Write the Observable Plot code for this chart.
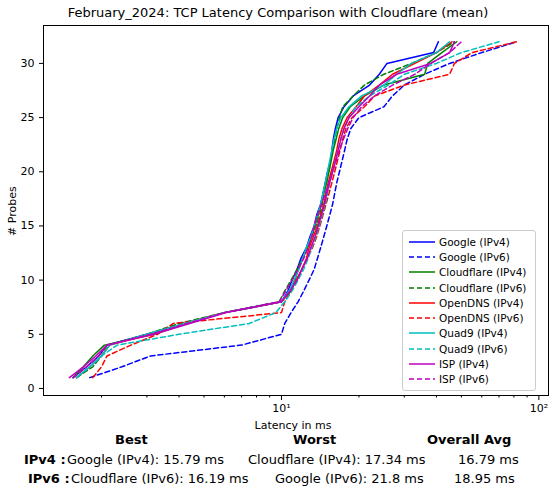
<!DOCTYPE html>
<html><head><meta charset="utf-8">
<script src="https://cdn.jsdelivr.net/npm/d3@7"></script>
<script src="https://cdn.jsdelivr.net/npm/@observablehq/plot@0.6"></script>
<style>
body{margin:0;font-family:"DejaVu Sans",sans-serif;background:#fff}
#wrap{position:relative;width:556px;height:496px}
.t{position:absolute;white-space:nowrap;font-size:13px}
.b{font-weight:bold}
#legend{position:absolute;left:402px;top:230px;width:132px;border:1px solid #ccc;border-radius:3px;background:rgba(255,255,255,.85);font-size:10.5px;padding:3px 0}
#legend div{height:15.3px;display:flex;align-items:center}
</style></head><body>
<div id="wrap">
  <div id="chart"></div>
  <div class="t" style="left:0;width:556px;text-align:center;top:5px">February_2024: TCP Latency Comparison with Cloudflare (mean)</div>
  <div id="legend"></div>
  <div class="t" style="left:0;width:556px;text-align:center;top:419px;font-size:11px;padding-left:30px;box-sizing:border-box">Latency in ms</div>
  <div class="t" style="left:6px;top:236px;transform:rotate(-90deg);transform-origin:left top;font-size:11px">&#35; Probes</div>
  <div class="t b" style="left:115px;top:432px">Best</div>
  <div class="t b" style="left:293px;top:432px">Worst</div>
  <div class="t b" style="left:427px;top:432px">Overall Avg</div>
  <div class="t b" style="left:24px;top:452px">IPv4 :</div>
  <div class="t" style="left:67px;top:452px">Google (IPv4): 15.79 ms</div>
  <div class="t" style="left:248px;top:452px">Cloudflare (IPv4): 17.34 ms</div>
  <div class="t" style="left:458px;top:452px">16.79 ms</div>
  <div class="t b" style="left:28px;top:471px">IPv6 :</div>
  <div class="t" style="left:71px;top:471px">Cloudflare (IPv6): 16.19 ms</div>
  <div class="t" style="left:275px;top:471px">Google (IPv6): 21.8 ms</div>
  <div class="t" style="left:454px;top:471px">18.95 ms</div>
</div>
<script>
const probes = d3.range(1, 33)
const names = ["Google (IPv4)","Google (IPv6)","Cloudflare (IPv4)","Cloudflare (IPv6)","OpenDNS (IPv4)","OpenDNS (IPv6)","Quad9 (IPv4)","Quad9 (IPv6)","ISP (IPv4)","ISP (IPv6)"]
const colors = ["#0000ff","#0000ff","#008000","#008000","#ff0000","#ff0000","#00bfbf","#00bfbf","#bf00bf","#bf00bf"]
const dashed = [false,true,false,true,false,true,false,true,false,true]
const google4 = [1.55,1.75,1.95,2.1,3.0,4.3,6.0,10,10.6,11.0,11.5,11.9,12.5,12.9,13.4,13.7,14.2,14.5,14.8,15.1,15.5,15.7,15.9,16.2,16.6,17.5,19,22,24,25.7,39,40.7]
const google6 = [1.8,2.4,3.1,7.0,10,10.3,10.9,11.6,12.2,12.8,13.4,13.8,14.2,14.6,15,15.4,15.8,16.1,16.4,16.8,17.2,17.6,18,18.6,20,25,27,30,36,45,60,82]
const cloud4 = [1.55,1.7,1.85,2.05,3.2,4.3,6.0,10,10.9,11.3,11.6,12.1,12.6,13.1,13.5,13.9,14.3,14.6,15,15.3,15.6,15.9,16.3,16.7,17.3,18.5,21,25,36,37,42,48]
const cloud6 = [1.6,1.85,2.0,2.1,3.0,4.0,6.0,9.8,10.3,10.9,11.5,12.1,12.6,13.1,13.6,14.1,14.4,14.6,14.9,15.2,15.5,15.8,16.1,16.4,16.8,17.3,19,21,25,32,40,47]
const open4 = [1.6,1.8,2.0,2.15,3.1,4.2,6.0,10,10.8,11.4,12,12.5,12.8,13.3,13.8,14.2,14.6,14.9,15.2,15.6,16,16.4,16.7,17.2,18,19.5,21,24,27,33,40,46]
const open6 = [1.85,2.0,2.1,2.6,3.3,3.8,10,10.3,10.9,11.5,12,12.6,13.2,13.7,14.1,14.5,14.9,15.3,15.7,16.1,16.5,16.9,17.3,17.8,18.8,21,23,30,45,47,55,82]
const quad4 = [1.6,1.8,2.0,2.15,3.0,4.2,6.0,10,10.7,11.2,11.7,12.1,12.5,13,13.4,13.8,14.2,14.5,14.8,15.1,15.4,15.7,16,16.4,17,18.3,20.5,25,28,32,40,45]
const quad6 = [1.6,1.8,2.0,2.3,4.0,7.5,9.5,10.3,11,11.6,12.2,12.7,13.1,13.6,14,14.4,14.8,15.1,15.4,15.8,16.2,16.6,17,17.5,18.3,19.5,22,26,30,40,50,70]
const isp4 = [1.5,1.7,1.9,2.1,3.2,4.4,6.1,10,10.8,11.5,12,12.6,13,13.5,13.9,14.3,14.7,15,15.4,15.8,16.2,16.6,17,17.5,18.3,20,22,24,28,38,45,47]
const isp6 = [1.55,1.75,1.95,2.1,3.1,4.3,6.0,9.8,10.4,11,11.6,12.2,12.7,13.1,13.4,13.8,14.3,14.8,15.3,15.8,16.3,16.8,17.4,18.1,19,20.5,23,27,33,38,45,50]
const series = [google4,google6,cloud4,cloud6,open4,open6,quad4,quad6,isp4,isp6]

const data = series.flatMap((s, i) => s.map((v, j) => ({name: names[i], x: v, y: probes[j]})))
const minor = [2,3,4,5,6,7,8,9,20,30,40,50,60,70,80,90]

const chart = Plot.plot({
  width: 556, height: 496,
  marginTop: 25, marginBottom: 101, marginLeft: 43, marginRight: 8,
  style: {fontFamily: "DejaVu Sans", fontSize: "10.5px"},
  x: {type: "log", domain: [1.19, 109]},
  y: {domain: [-0.65, 33.5]},
  marks: [
    Plot.frame({stroke: "#000"}),
    Plot.axisY([0,5,10,15,20,25,30], {tickSize: 4, label: null, fontSize: 11}),
    Plot.axisX([10,100], {tickSize: 5, label: null, tickFormat: d => d == 10 ? "10¹" : "10²", fontSize: 11}),
    Plot.axisX(minor, {tickSize: 2.5, label: null, tickFormat: () => ""}),
    ...names.map((n, i) => Plot.line(data.filter(d => d.name === n), {
      x: "x", y: "y", stroke: colors[i], strokeWidth: 1.5,
      strokeDasharray: dashed[i] ? "5,3" : null
    }))
  ]
})
d3.select('#chart').append(() => chart)

const lg = d3.select('#legend')
names.forEach((n, i) => {
  const row = lg.append('div')
  row.append('svg').attr('width', 36).attr('height', 10)
    .append('line').attr('x1', 6).attr('x2', 32).attr('y1', 5).attr('y2', 5)
    .attr('stroke', colors[i]).attr('stroke-width', 1.5)
    .attr('stroke-dasharray', dashed[i] ? '5,3' : null)
  row.append('span').text(n)
})
</script>
</body></html>
